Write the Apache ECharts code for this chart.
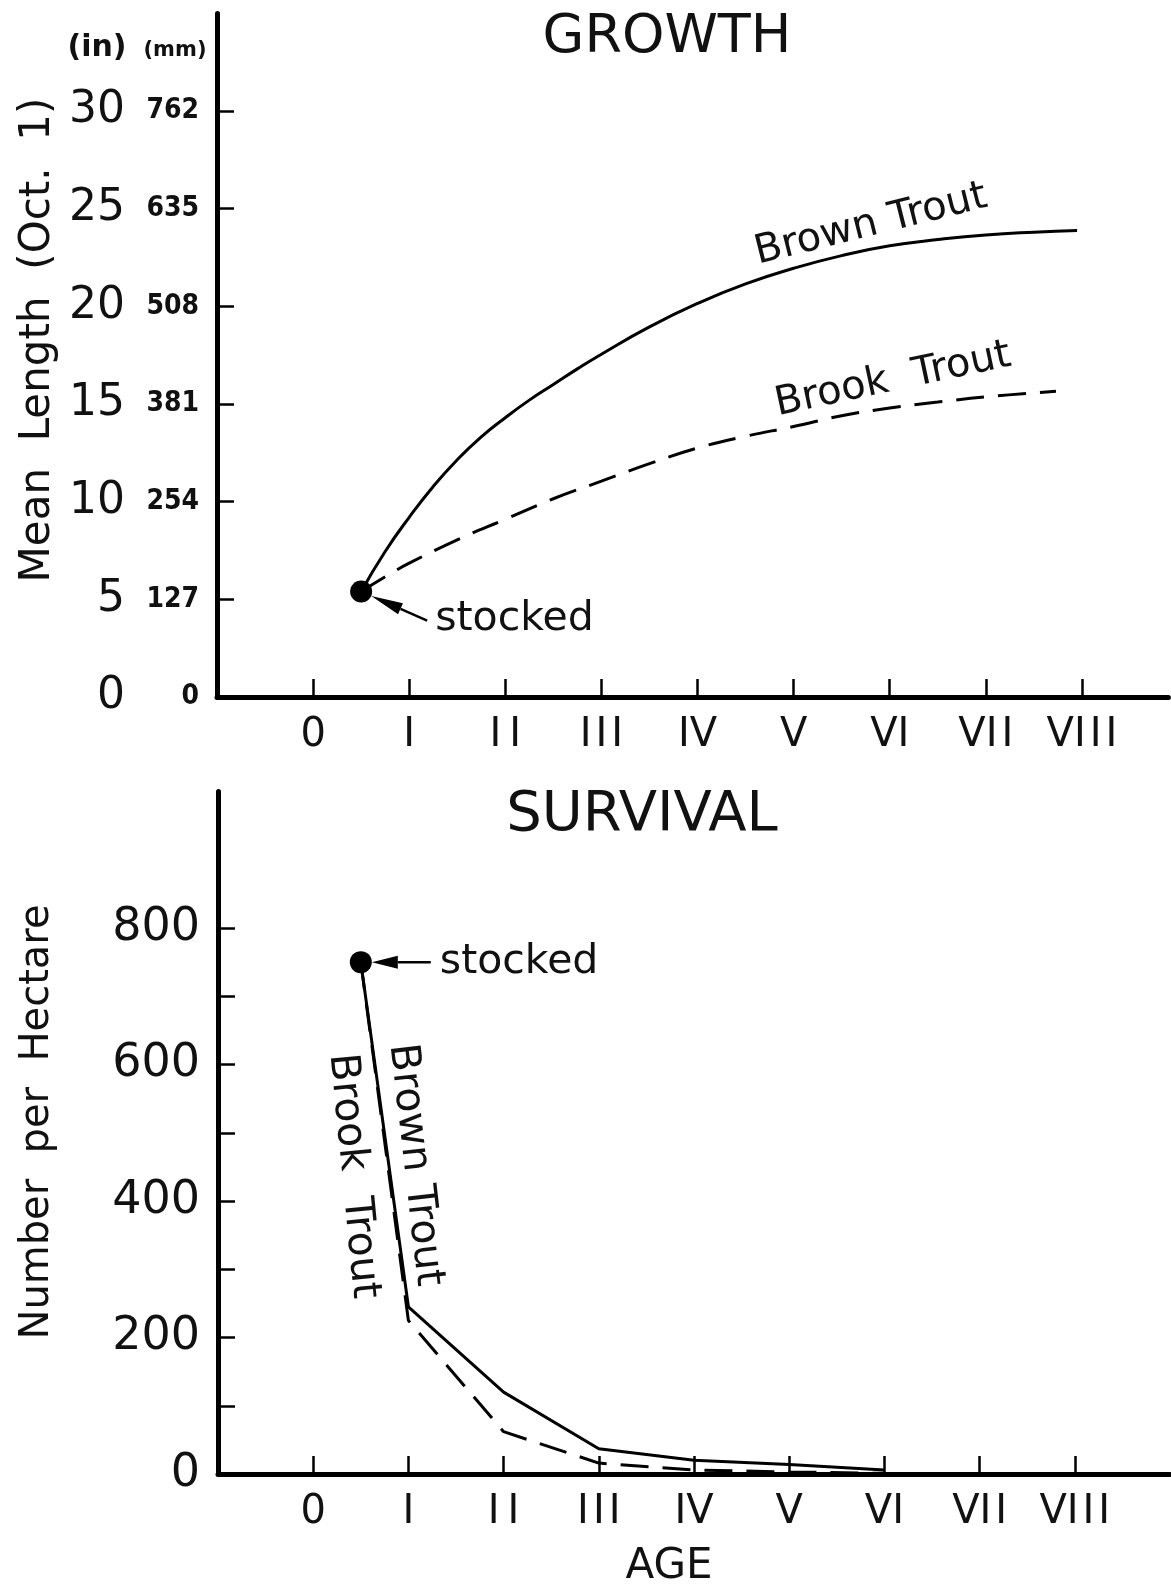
<!DOCTYPE html>
<html><head><meta charset="utf-8">
<script src="https://cdn.jsdelivr.net/npm/echarts@6/dist/echarts.min.js"></script>
<style>html,body{margin:0;padding:0;background:#fff}#c{width:1171px;height:1589px}</style>
</head><body><div id="c"></div>
<script>
// ---- tick labels ----
const ageTicks = [0, 1, 2, 3, 4, 5, 6, 7, 8];
const ageLabels = ['0', 'I', 'I\u2009I', 'I\u200aI\u200aI', 'IV', 'V', 'VI', 'VI\u200aI', 'VI\u200aI\u200aI'];
const inchTicks = [0, 5, 10, 15, 20, 25, 30];
const mmLabels = ['0', '127', '254', '381', '508', '635', '762'];
const survTicks = [0, 100, 200, 300, 400, 500, 600, 700, 800];
const survLabels = [0, 200, 400, 600, 800];

// ---- growth (mean length, inches, Oct. 1) ----
const brownGrowthAge = [0.5, 0.75, 1, 1.25, 1.5, 1.75, 2, 2.25, 2.5, 2.75, 3, 3.5, 4, 4.5, 5, 5.5, 6, 6.5, 7, 7.5, 7.95];
const brownGrowthLen = [5.4, 7.45, 9.2, 10.78, 12.15, 13.32, 14.3, 15.2, 16.0, 16.8, 17.55, 18.95, 20.15, 21.15, 21.95, 22.6, 23.1, 23.42, 23.66, 23.8, 23.88];
const brookGrowthAge = [0.5, 0.8, 1, 1.5, 2, 2.5, 3, 3.5, 4, 4.5, 5, 5.5, 6, 6.5, 7, 7.73];
const brookGrowthLen = [5.4, 6.3, 6.85, 8.05, 9.1, 10.15, 11.05, 11.95, 12.75, 13.35, 13.85, 14.4, 14.8, 15.1, 15.37, 15.65];

// ---- survival (number per hectare) ----
const survAge = [0.5, 1, 2, 3, 4, 5, 6];
const brownSurvival = [750, 245, 120, 37, 20, 14, 6];
const brookSurvival = [750, 225, 62, 16, 6, 3, 1];

// ---- stocked point ----
const stockedAge = 0.5;
const stockedLength = 5.4;
const stockedNumber = 750;

const zip = (a, b) => a.map((v, i) => [v, b[i]]);
const TXT = '#111';
const FONT = 'DejaVu Sans';

const chart = echarts.init(document.getElementById('c'), null, {renderer: 'canvas'});

const axisLineStyle = {color: '#000', width: 5, cap: 'round'};
const tickStyle = {color: '#000', width: 2.5};

function xAxisFor(gi, max) {
  return {
    type: 'value', gridIndex: gi, min: -1, max: max,
    axisLine: {show: true, onZero: false, lineStyle: axisLineStyle},
    axisTick: {show: true, inside: true, length: 18, lineStyle: tickStyle, customValues: ageTicks},
    axisLabel: {
      customValues: ageTicks, margin: 19, color: TXT, fontFamily: FONT, fontSize: 40,
      formatter: v => ageLabels[ageTicks.indexOf(v)]
    },
    splitLine: {show: false}
  };
}

const option = {
  animation: false,
  backgroundColor: '#fff',
  grid: [
    {left: 217, top: 13.4, width: 951.4, height: 683.6},
    {left: 218, top: 791.5, width: 952, height: 682.5}
  ],
  xAxis: [xAxisFor(0, 8.9), xAxisFor(1, 9)],
  yAxis: [
    {
      type: 'value', gridIndex: 0, min: 0, max: 35,
      axisLine: {show: true, onZero: false, lineStyle: axisLineStyle},
      axisTick: {show: true, inside: true, length: 17, lineStyle: tickStyle, customValues: inchTicks},
      axisLabel: {
        customValues: inchTicks, margin: 18,
        formatter: v => '{a|' + v + '}{b|' + mmLabels[inchTicks.indexOf(v)] + '}',
        rich: {
          a: {fontFamily: FONT, fontSize: 44, width: 60, align: 'right', color: TXT},
          b: {fontFamily: "'DejaVu Sans Condensed', 'DejaVu Sans'", fontWeight: 'bold', fontSize: 28, width: 74, align: 'right', color: TXT}
        }
      },
      splitLine: {show: false}
    },
    {
      type: 'value', gridIndex: 1, min: 0, max: 1000,
      axisLine: {show: true, onZero: false, lineStyle: axisLineStyle},
      axisTick: {show: true, inside: true, length: 17, lineStyle: tickStyle, customValues: survTicks},
      axisLabel: {customValues: survLabels, margin: 18, color: TXT, fontFamily: FONT, fontSize: 46},
      splitLine: {show: false}
    }
  ],
  series: [
    {name: 'Brown Trout', type: 'line', xAxisIndex: 0, yAxisIndex: 0, smooth: 0.5, symbol: 'none',
      lineStyle: {color: '#000', width: 3}, data: zip(brownGrowthAge, brownGrowthLen)},
    {name: 'Brook Trout', type: 'line', xAxisIndex: 0, yAxisIndex: 0, smooth: 0.4, symbol: 'none',
      lineStyle: {color: '#000', width: 3, type: [28, 14]}, data: zip(brookGrowthAge, brookGrowthLen)},
    {name: 'stocked', type: 'scatter', xAxisIndex: 0, yAxisIndex: 0, symbol: 'circle', symbolSize: 22,
      itemStyle: {color: '#000', opacity: 1}, z: 5, data: [[stockedAge, stockedLength]]},
    {name: 'Brown Trout S', type: 'line', xAxisIndex: 1, yAxisIndex: 1, symbol: 'none',
      lineStyle: {color: '#000', width: 3}, data: zip(survAge, brownSurvival)},
    {name: 'Brook Trout S', type: 'line', xAxisIndex: 1, yAxisIndex: 1, symbol: 'none',
      lineStyle: {color: '#000', width: 3, type: [28, 14]}, data: zip(survAge, brookSurvival)},
    {name: 'stocked S', type: 'scatter', xAxisIndex: 1, yAxisIndex: 1, symbol: 'circle', symbolSize: 22,
      itemStyle: {color: '#000', opacity: 1}, z: 5, data: [[stockedAge, stockedNumber]]}
  ]
};
chart.setOption(option);

function txt(text, x, y, size, opts) {
  opts = opts || {};
  return {
    type: 'text', x: x, y: y, rotation: opts.rotation || 0, z: 10,
    style: {
      text: text, fill: TXT,
      font: (opts.weight || 'normal') + ' ' + size + 'px ' + (opts.family || "'DejaVu Sans'"),
      align: opts.align || 'center', verticalAlign: 'middle',
      textAlign: opts.align || 'center', textVerticalAlign: 'middle'
    }
  };
}

function arrow(tail, center, radius, headLen, headW) {
  const dx = tail[0] - center[0], dy = tail[1] - center[1];
  const d = Math.sqrt(dx * dx + dy * dy);
  const ux = dx / d, uy = dy / d;
  const tip = [center[0] + ux * radius, center[1] + uy * radius];
  const base = [tip[0] + ux * headLen, tip[1] + uy * headLen];
  const px = -uy, py = ux;
  return [
    {type: 'polyline', z: 9, shape: {points: [tail, base]}, style: {stroke: '#000', lineWidth: 2.5, fill: null}},
    {type: 'polygon', z: 9, shape: {points: [tip, [base[0] + px * headW, base[1] + py * headW], [base[0] - px * headW, base[1] - py * headW]]},
      style: {fill: '#000'}}
  ];
}

const p1 = chart.convertToPixel({gridIndex: 0}, [stockedAge, stockedLength]);
const p2 = chart.convertToPixel({gridIndex: 1}, [stockedAge, stockedNumber]);
const deg = Math.PI / 180;

const graphics = [
  txt('GROWTH', 667, 38, 54),
  txt('SURVIVAL', 642, 815, 56),
  txt('AGE', 669, 1567, 42),
  txt('(in)', 97, 48, 30, {weight: 'bold'}),
  txt('(mm)', 175, 51, 21, {weight: 'bold'}),
  txt('Mean  Length  (Oct.  1)', 38, 340, 42, {rotation: 90 * deg}),
  txt('Number  per  Hectare', 38, 1122, 40, {rotation: 90 * deg}),
  txt('Brown Trout', 871, 225, 40, {rotation: 14 * deg}),
  txt('Brook  Trout', 893, 380, 40, {rotation: 12 * deg}),
  txt('Brown Trout', 415, 1165, 41, {rotation: -83.5 * deg}),
  txt('Brook  Trout', 353, 1176, 41, {rotation: -84.5 * deg}),
  txt('stocked', p1[0] + 74, p1[1] + 28, 41, {align: 'left'}),
  txt('stocked', p2[0] + 79, p2[1], 41, {align: 'left'})
].concat(
  arrow([p1[0] + 66, p1[1] + 29], p1, 11, 32, 6),
  arrow([p2[0] + 70, p2[1]], p2, 11, 26, 6.5)
);

chart.setOption({graphic: graphics});
</script>
</body></html>
